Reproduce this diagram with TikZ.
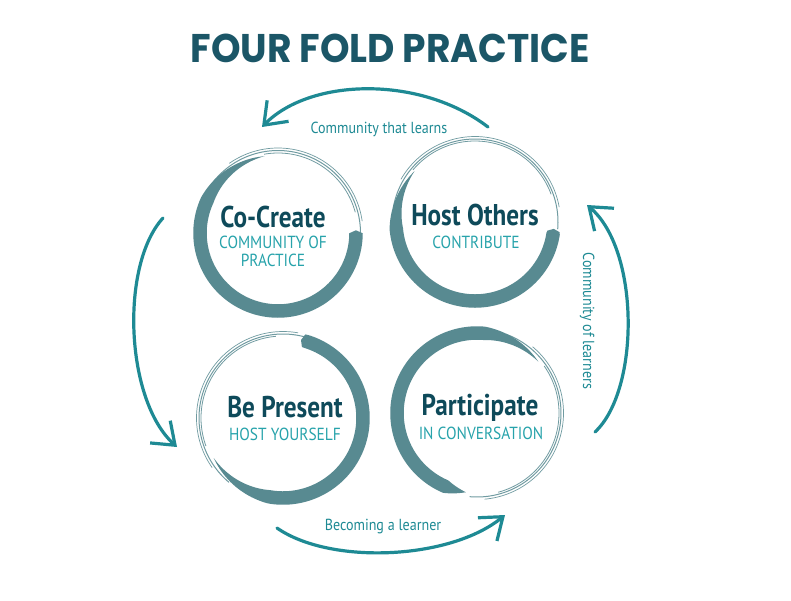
\documentclass[tikz,border=0pt]{standalone}
\usepackage{fontspec}
\usetikzlibrary{arrows.meta}
\newfontfamily\titlefont{Poppins}[FakeStretch=0.94]
\newfontfamily\labfont{PT Sans}[FakeStretch=0.84]
\newfontfamily\subfont{PT Sans}[FakeStretch=0.88]
\definecolor{ringc}{HTML}{588A91}
\definecolor{arrowc}{HTML}{1E8A94}
\definecolor{darkc}{HTML}{0E4A5A}
\definecolor{subc}{HTML}{27A3AB}
\definecolor{titlec}{HTML}{1B5667}
% thick brush arc: cx cy R a1 a2 W taper1 taper2
\newcommand{\brushring}[8]{%
  \fill[ringc] plot[domain=#4:#5,samples=120,variable=\t]
   ({#1+(#3+0.5*#6*min(1,(\t-#4)/#7,(#5-\t)/#8))*cos(\t)},{#2-(#3+0.5*#6*min(1,(\t-#4)/#7,(#5-\t)/#8))*sin(\t)})
   -- plot[domain=#5:#4,samples=120,variable=\t]
   ({#1+(#3-0.5*#6*min(1,(\t-#4)/#7,(#5-\t)/#8))*cos(\t)},{#2-(#3-0.5*#6*min(1,(\t-#4)/#7,(#5-\t)/#8))*sin(\t)})
   -- cycle;}
% thin strand: cx cy r a1 a2 lw
\newcommand{\strand}[6]{%
  \draw[ringc,line width=#6,opacity=0.85] plot[domain=#4:#5,samples=80,variable=\t]
   ({#1+#3*cos(\t)},{#2-#3*sin(\t)});}
\begin{document}
\begin{tikzpicture}[x=1pt,y=-1pt,
  arr/.style={arrowc,line width=3.2pt,line cap=round,
    -{Straight Barb[length=20pt,width=30pt,line width=3.2pt]}},
  mainlab/.style={text=darkc,font=\labfont\bfseries\fontsize{30}{32}\selectfont,anchor=base,inner sep=0pt},
  sublab/.style={text=subc,font=\subfont\fontsize{17.5}{19}\selectfont,anchor=base,inner sep=0pt},
  arrlab/.style={text=arrowc,font=\subfont\fontsize{16}{18}\selectfont,anchor=base,inner sep=0pt}]
\fill[white] (0,0) rectangle (791,600);
\useasboundingbox (0,0) rectangle (791,600);

% title
\node[text=titlec,font=\titlefont\bfseries\fontsize{40}{44}\selectfont,anchor=base,inner sep=0pt] (title) at (390,62) {FOUR FOLD PRACTICE};

% Co-Create ring
\brushring{278}{233}{78}{100}{362}{13.5}{55}{2}
\strand{278}{233}{82.5}{0}{150}{1}
\strand{278}{233}{85}{8}{125}{0.7}
\strand{278}{233}{80}{15}{100}{0.8}
% Host Others ring
\brushring{475}{222}{79}{140}{355}{13.5}{45}{2}
\strand{475}{222}{83}{-5}{170}{1}
\strand{475}{222}{85.5}{10}{150}{0.7}
\strand{475}{222}{81}{20}{140}{0.8}
% Be Present ring
\brushring{283}{418}{80}{-150}{77}{13.5}{50}{2}
\strand{283}{418}{84}{65}{230}{1}
\strand{283}{418}{86.5}{80}{215}{0.7}
\strand{283}{418}{82}{95}{200}{0.8}
% Participate ring
\brushring{477}{413}{80}{40}{262}{13.5}{45}{15}
\strand{477}{413}{84}{-95}{70}{1}
\strand{477}{413}{86.5}{-85}{50}{0.7}
\strand{477}{413}{82}{-75}{35}{0.8}

% labels
\node[mainlab] (cc) at (273,227) {Co-Create};
\node[sublab] (cc1) at (273,248) {COMMUNITY OF};
\node[sublab] (cc2) at (273,266) {PRACTICE};
\node[mainlab] (ho) at (475,225) {Host Others};
\node[sublab] (ho1) at (476,248) {CONTRIBUTE};
\node[mainlab] (bp) at (285,417) {Be Present};
\node[sublab] (bp1) at (285,440) {HOST YOURSELF};
\node[mainlab] (pa) at (480,415) {Participate};
\node[sublab] (pa1) at (481,439) {IN CONVERSATION};

% arrows
\coordinate (t1) at (488,127); \coordinate (t2) at (262,127);
\coordinate (r1) at (595,432); \coordinate (r2) at (587,205);
\coordinate (l1) at (163,218); \coordinate (l2) at (177,447);
\coordinate (b1) at (277,528); \coordinate (b2) at (505,515);
\draw[arr] (t1) .. controls (420,75) and (310,78) .. (t2);
\draw[arr] (r1) .. controls (640,390) and (640,250) .. (r2);
\draw[arr] (l1) .. controls (120,265) and (125,400) .. (l2);
\draw[arr] (b1) .. controls (330,565) and (450,560) .. (b2);

\node[arrlab] (lt) at (379,133) {Community that learns};
\node[arrlab,rotate=-90] (lr) at (583,321) {Community of learners};
\node[arrlab] (lb) at (383,530) {Becoming a learner};
\end{tikzpicture}
\end{document}
